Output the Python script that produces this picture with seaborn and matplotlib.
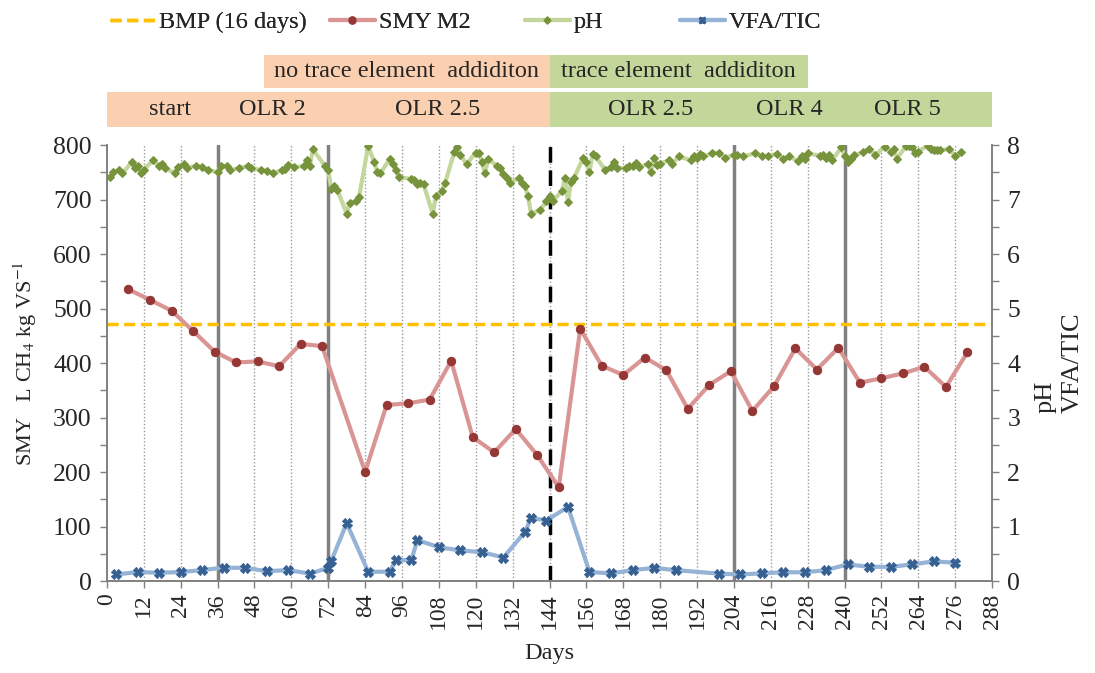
import numpy as np
import pandas as pd
import matplotlib
matplotlib.use("Agg")
import matplotlib.pyplot as plt
import matplotlib.transforms as mtransforms
from matplotlib.patches import Rectangle
from matplotlib.lines import Line2D
import seaborn as sns

# ---- data ----
smy_days = [7, 14, 21, 28, 35, 42, 49, 56, 63, 70, 84, 91, 98, 105, 112, 119, 126, 133, 140, 147,
            154, 161, 168, 175, 182, 189, 196, 203, 210, 217, 224, 231, 238, 245, 252, 259, 266, 273, 280]
smy_vals = [535, 516, 496, 459, 421, 401, 403, 394, 435, 431, 200, 323, 326, 333, 404, 264, 236, 279, 231, 172,
            463, 395, 378, 410, 387, 316, 360, 385, 312, 357, 427, 388, 428, 364, 372, 381, 393, 356, 420]

bmp_value = 472

vfa_days = [3, 10, 17, 24, 31, 38, 45, 52, 59, 66, 72, 73, 78, 85, 92, 94, 99, 101, 108, 115, 122, 129,
            136, 138, 143, 150, 157, 164, 171, 178, 185, 199, 206, 213, 220, 227, 234, 241, 248, 255,
            262, 269, 276]
vfa_vals = [0.12, 0.165, 0.15, 0.165, 0.2, 0.245, 0.24, 0.18, 0.2, 0.135, 0.24, 0.37, 1.06, 0.17, 0.17,
            0.385, 0.38, 0.75, 0.62, 0.56, 0.53, 0.43, 0.9, 1.16, 1.11, 1.36, 0.165, 0.14, 0.2, 0.24,
            0.2, 0.135, 0.12, 0.14, 0.16, 0.16, 0.2, 0.305, 0.26, 0.26, 0.305, 0.36, 0.335]

ph_days = [1, 2, 4, 5, 8, 9, 10, 11, 12, 15, 17, 18, 19, 22, 23, 25, 26, 29, 31, 33, 36, 37, 39, 40,
           43, 46, 47, 50, 52, 54, 57, 58, 59, 61, 64, 65, 66, 67, 71, 72, 73, 74, 75, 78, 79, 81, 82,
           85, 87, 88, 89, 92, 93, 94, 95, 99, 100, 101, 102, 103, 106, 107, 109, 110, 113, 114, 115,
           117, 120, 121, 122, 123, 124, 127, 128, 129, 130, 131, 134, 135, 136, 137, 138, 141, 143,
           144, 145, 148, 149, 150, 151, 152, 155, 156, 157, 158, 159, 162, 164, 165, 166, 169, 170,
           171, 172, 173, 176, 177, 178, 179, 180, 183, 184, 186, 190, 191, 192, 193, 194, 197, 199,
           201, 204, 205, 207, 211, 213, 215, 218, 220, 222, 225, 226, 227, 228, 232, 233, 234, 235,
           236, 239, 240, 241, 242, 243, 246, 248, 250, 253, 255, 256, 257, 260, 261, 262, 263, 264,
           267, 268, 269, 270, 271, 274, 276, 278]
ph_vals = [7.41, 7.50, 7.54, 7.48, 7.68, 7.57, 7.61, 7.48, 7.55, 7.72, 7.61, 7.66, 7.57, 7.49, 7.60,
           7.65, 7.58, 7.62, 7.60, 7.54, 7.50, 7.61, 7.62, 7.54, 7.58, 7.61, 7.58, 7.54, 7.53, 7.48,
           7.54, 7.56, 7.64, 7.59, 7.62, 7.72, 7.61, 7.92, 7.61, 7.54, 7.19, 7.24, 7.17, 6.74, 6.94,
           6.97, 7.04, 7.98, 7.68, 7.50, 7.49, 7.74, 7.65, 7.54, 7.42, 7.37, 7.36, 7.29, 7.30, 7.28,
           6.74, 7.06, 7.16, 7.30, 7.87, 7.97, 7.82, 7.65, 7.86, 7.85, 7.69, 7.48, 7.75, 7.61, 7.58,
           7.46, 7.39, 7.31, 7.39, 7.30, 7.24, 7.06, 6.74, 6.81, 6.97, 7.07, 6.97, 7.15, 7.40, 6.95,
           7.33, 7.40, 7.77, 7.68, 7.50, 7.83, 7.79, 7.55, 7.59, 7.68, 7.58, 7.57, 7.61, 7.61, 7.67,
           7.60, 7.65, 7.51, 7.76, 7.63, 7.66, 7.72, 7.65, 7.79, 7.72, 7.79, 7.77, 7.83, 7.79, 7.85,
           7.86, 7.77, 7.82, 7.82, 7.79, 7.85, 7.80, 7.80, 7.84, 7.75, 7.79, 7.70, 7.80, 7.75, 7.85,
           7.80, 7.82, 7.77, 7.82, 7.72, 7.96, 7.79, 7.69, 7.74, 7.81, 7.87, 7.93, 7.81, 7.97, 7.87,
           7.93, 7.75, 7.98, 7.98, 7.96, 7.86, 7.88, 7.99, 7.93, 7.91, 7.90, 7.90, 7.93, 7.80, 7.87]

# phase boundaries and band labels
olr_changes = [36, 72, 204, 240]
te_start = 144
phase_labels = ["start", "OLR 2", "OLR 2.5", "OLR 2.5", "OLR 4", "OLR 5"]
phase_centers = [20.5, 54, 107.5, 177, 222, 260.5]
te_labels = ["no trace element  addiditon", "trace element  addiditon"]
te_spans = [(51, 144), (144, 228)]
legend_labels = ["BMP (16 days)", "SMY M2", "pH", "VFA/TIC"]

smy = pd.DataFrame({"day": smy_days, "SMY": smy_vals})
vfa = pd.DataFrame({"day": vfa_days, "VFA/TIC": vfa_vals})
ph = pd.DataFrame({"day": ph_days, "pH": ph_vals})

# ---- style ----
sns.set_style("white")
plt.rcParams["font.family"] = ["Liberation Serif", "DejaVu Serif"]
plt.rcParams["mathtext.fontset"] = "stix"

orange_band = "#FBD0B0"
green_band = "#C4D79B"
grey = "#808080"
fs = 17.5

fig = plt.figure(figsize=(10.95, 6.73), dpi=100)
ax = fig.add_axes([0.0977, 0.1367, 0.8083, 0.6478])
ax2 = ax.twinx()

# vertical guide lines
for d in range(12, 288, 12):
    ax.axvline(d, color="#9a9a9a", lw=1, ls=(0, (1, 1.5)), zorder=0)
for d in olr_changes:
    ax.axvline(d, color=grey, lw=2.5, zorder=1)
ax.axvline(te_start, color="black", lw=2.5, ls=(0, (4.5, 2.2)), zorder=1)

ax.axhline(bmp_value, color="#FFC000", lw=2.5, ls=(0, (3.2, 1.6)), zorder=2)

sns.lineplot(data=smy, x="day", y="SMY", ax=ax, color="#D99594", lw=3, marker="o", ms=6,
             markerfacecolor="#953735", markeredgecolor="#953735", zorder=3)
sns.lineplot(data=ph, x="day", y="pH", ax=ax2, color="#C3D69B", lw=3, marker="D", ms=4.5,
             markerfacecolor="#77933C", markeredgecolor="#77933C", zorder=3)
sns.lineplot(data=vfa, x="day", y="VFA/TIC", ax=ax2, color="#95B3D7", lw=3, marker="X", ms=6.5,
             markerfacecolor="#376092", markeredgecolor="#376092", zorder=3)

# axes
ax.set_xlim(0, 288)
ax.set_ylim(0, 800)
ax2.set_ylim(0, 8)
ax.set_xticks(range(0, 289, 12))
ax.set_xticklabels([str(d) for d in range(0, 289, 12)], rotation=90, fontsize=17)
ax.set_yticks(range(0, 801, 100))
ax.set_yticks(range(0, 801, 50), minor=True)
ax.tick_params(axis="y", labelsize=18.5)
ax2.set_yticks(range(0, 9))
ax2.set_yticks(np.arange(0, 8.01, 0.5), minor=True)
ax2.tick_params(axis="y", labelsize=18.5)
for a in (ax, ax2):
    a.tick_params(which="both", direction="out", color=grey, length=5, width=1)
    a.tick_params(axis="y", which="both", left=(a is ax), right=(a is ax2))
    a.spines["top"].set_visible(False)
    for s in ("left", "right", "bottom"):
        a.spines[s].set_color(grey)
        a.spines[s].set_linewidth(1.2)
ax.tick_params(axis="x", bottom=True, pad=4)
ax.tick_params(axis="y", pad=6)
ax2.tick_params(axis="y", pad=6)

ax.set_xlabel("Days", fontsize=17.5, labelpad=10)
ax.set_ylabel("SMY   L CH$_4$ kg VS$^{-1}$", fontsize=16, labelpad=10)
ax2.set_ylabel("pH\nVFA/TIC", fontsize=19, labelpad=10, multialignment="left",
               linespacing=1.3)

# header bands
trans = mtransforms.blended_transform_factory(ax.transData, ax.transAxes)
band_lo, band_h = 1.041, 0.080
for x0, x1, c in [(0, 144, orange_band), (144, 288, green_band)]:
    ax.add_patch(Rectangle((x0, band_lo), x1 - x0, band_h, transform=trans, color=c,
                           clip_on=False, lw=0, zorder=0))
for lab, xc in zip(phase_labels, phase_centers):
    ax.text(xc, band_lo + band_h / 2, lab, transform=trans, ha="center", va="center", fontsize=fs)

up_lo, up_h = 1.130, 0.076
for (x0, x1), c, lab in zip(te_spans, [orange_band, green_band], te_labels):
    ax.add_patch(Rectangle((x0, up_lo), x1 - x0, up_h, transform=trans, color=c,
                           clip_on=False, lw=0, zorder=0))
    ax.text((x0 + x1) / 2, up_lo + up_h / 2, lab, transform=trans, ha="center", va="center",
            fontsize=fs)

# legend: one small legend per entry, placed like the original
handles = [
    Line2D([], [], color="#FFC000", lw=2.5, ls=(0, (3.2, 1.6))),
    Line2D([], [], color="#D99594", lw=3, marker="o", ms=5, mfc="#953735", mec="#953735"),
    Line2D([], [], color="#C3D69B", lw=3, marker="D", ms=3.5, mfc="#77933C", mec="#77933C"),
    Line2D([], [], color="#95B3D7", lw=3, marker="X", ms=5, mfc="#376092", mec="#376092"),
]
legend_x = [110, 330, 525, 680]
for h, lab, px in zip(handles, legend_labels, legend_x):
    leg = fig.legend([h], [lab], loc="center left", bbox_to_anchor=(px / 1095, 1 - 22 / 673),
                     frameon=False, fontsize=fs, handlelength=1.85, handletextpad=0.15,
                     borderpad=0, borderaxespad=0)
    fig.add_artist(leg)

fig.savefig("out.png", dpi=100)
